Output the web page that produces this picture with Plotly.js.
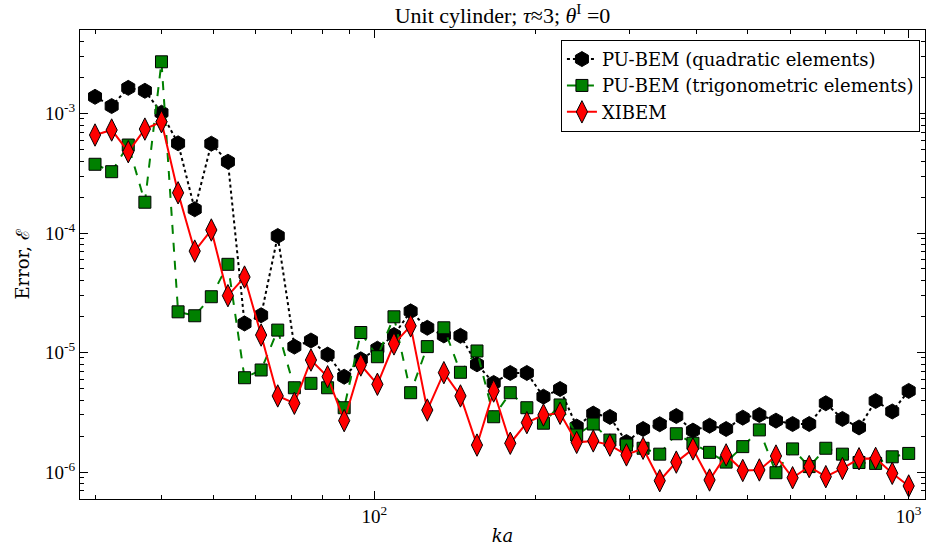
<!DOCTYPE html>
<html>
<head>
<meta charset="utf-8">
<script src="https://cdn.plot.ly/plotly-3.0.1.min.js"></script>
<style>html,body{margin:0;padding:0;background:#fff;}#chart{width:927px;height:546px;}</style>
</head>
<body>
<div id="chart"></div>
<script>
// ka values (log-spaced)
const ka = [30.0, 32.23, 34.62, 37.19, 39.95, 42.91, 46.10, 49.52, 53.19, 57.14,
  61.38, 65.93, 70.83, 76.08, 81.73, 87.79, 94.31, 101.3, 108.8, 116.9,
  125.6, 134.9, 144.9, 155.6, 167.2, 179.6, 192.9, 207.2, 222.6, 239.1,
  256.8, 275.9, 296.3, 318.3, 342.0, 367.3, 394.6, 423.9, 455.3, 489.1,
  525.4, 564.4, 606.3, 651.3, 699.6, 751.5, 807.3, 867.2, 931.5, 1000];

const puQuadratic = [1.38e-3, 1.155e-3, 1.64e-3, 1.55e-3, 1.015e-3, 5.63e-4, 1.58e-4, 5.59e-4, 3.95e-4, 1.75e-5,
  2.05e-5, 9.44e-5, 1.12e-5, 1.26e-5, 9.6e-6, 6.27e-6, 8.77e-6, 1.076e-5, 1.40e-5, 2.21e-5,
  1.61e-5, 1.39e-5, 1.38e-5, 7.96e-6, 5.56e-6, 6.74e-6, 6.74e-6, 4.27e-6, 4.95e-6, 2.40e-6,
  3.08e-6, 2.89e-6, 1.78e-6, 2.29e-6, 2.51e-6, 2.94e-6, 2.22e-6, 2.44e-6, 2.29e-6, 2.85e-6,
  3.00e-6, 2.69e-6, 2.52e-6, 2.52e-6, 3.76e-6, 2.78e-6, 2.36e-6, 3.93e-6, 3.21e-6, 4.77e-6];

const puTrig = [3.76e-4, 3.26e-4, 5.45e-4, 1.81e-4, 2.71e-3, 2.19e-5, 2.03e-5, 2.93e-5, 5.47e-5, 6.15e-6,
  7.14e-6, 1.54e-5, 5.07e-6, 5.52e-6, 5.07e-6, 3.45e-6, 1.47e-5, 9.22e-6, 1.99e-5, 4.61e-6,
  1.12e-5, 1.61e-5, 6.83e-6, 1.03e-5, 2.90e-6, 4.61e-6, 3.45e-6, 2.56e-6, 3.64e-6, 2.04e-6,
  2.52e-6, 1.85e-6, 1.68e-6, 1.58e-6, 1.41e-6, 2.09e-6, 1.74e-6, 1.46e-6, 1.21e-6, 1.63e-6,
  2.25e-6, 9.86e-7, 1.56e-6, 1.11e-6, 1.58e-6, 1.41e-6, 1.20e-6, 1.18e-6, 1.34e-6, 1.43e-6];

const xibem = [6.61e-4, 7.28e-4, 4.79e-4, 7.41e-4, 8.53e-4, 2.17e-4, 7.06e-5, 1.06e-4, 2.99e-5, 4.28e-5,
  1.40e-5, 4.33e-6, 3.76e-6, 8.65e-6, 6.27e-6, 2.69e-6, 7.86e-6, 5.42e-6, 1.18e-5, 1.67e-5,
  3.30e-6, 6.78e-6, 4.33e-6, 1.68e-6, 4.76e-6, 1.74e-6, 2.59e-6, 3.00e-6, 3.10e-6, 1.77e-6,
  1.82e-6, 1.68e-6, 1.39e-6, 1.58e-6, 8.45e-7, 1.21e-6, 1.56e-6, 8.57e-7, 1.39e-6, 1.03e-6,
  1.04e-6, 1.36e-6, 8.95e-7, 1.11e-6, 9.14e-7, 1.07e-6, 1.29e-6, 1.30e-6, 9.75e-7, 7.64e-7];

const seriesNames = ["PU-BEM (quadratic elements)", "PU-BEM (trigonometric elements)", "XIBEM"];
const xTickVals = [100, 1000];
const xTickText = ["10<sup>2</sup>", "10<sup>3</sup>"];
const yTickVals = [1e-6, 1e-5, 1e-4, 1e-3];
const yTickText = ["10<sup>-6</sup>", "10<sup>-5</sup>", "10<sup>-4</sup>", "10<sup>-3</sup>"];

// minor tick positions: k * 10^n, k = 2..9
function minorTicks(e0, e1) {
  const out = [];
  for (let e = e0; e <= e1; e++) for (let k = 2; k <= 9; k++) out.push(k * Math.pow(10, e));
  return out;
}

const traces = [
  {x: ka, y: puQuadratic, name: seriesNames[0], mode: "lines+markers",
   line: {color: "black", width: 2, dash: "dot"},
   marker: {symbol: "hexagon", size: 15, color: "black", line: {color: "black", width: 1}}},
  {x: ka, y: puTrig, name: seriesNames[1], mode: "lines+markers",
   line: {color: "#008000", width: 2, dash: "dash"},
   marker: {symbol: "square", size: 12, color: "#008000", line: {color: "black", width: 1}}},
  {x: ka, y: xibem, name: seriesNames[2], mode: "lines+markers",
   line: {color: "red", width: 2, dash: "solid"},
   marker: {symbol: "diamond-tall", size: 16, color: "red", line: {color: "black", width: 1}}}
];

const tickFont = {family: "Liberation Serif, DejaVu Serif, serif", size: 19, color: "black"};
const axisCommon = {
  type: "log", showgrid: false, zeroline: false,
  showline: true, linecolor: "black", linewidth: 1, mirror: "allticks",
  ticks: "inside", ticklen: 8, tickwidth: 1, tickcolor: "black",
  tickmode: "array", tickfont: tickFont
};

const layout = {
  width: 927, height: 546,
  margin: {l: 80, r: 2, t: 30, b: 47},
  paper_bgcolor: "white", plot_bgcolor: "white",
  showlegend: true,
  title: {text: "Unit cylinder; <i>τ</i>≈3; <i>θ</i><sup>I</sup> =0",
          x: 0.5, xref: "paper", xanchor: "center",
          y: 0.972, yref: "container", yanchor: "middle",
          font: {family: "Liberation Serif, DejaVu Serif, serif", size: 22, color: "black"}},
  xaxis: Object.assign({}, axisCommon, {
    range: [1.449, 3.0305], tickvals: xTickVals, ticktext: xTickText,
    minor: {tickmode: "array", tickvals: minorTicks(1, 3), ticks: "inside", ticklen: 4,
            tickwidth: 1, tickcolor: "black", showgrid: false},
    title: {text: "<i>ka</i>", standoff: 4, font: {family: "DejaVu Serif, serif", size: 18, color: "black"}}
  }),
  yaxis: Object.assign({}, axisCommon, {
    range: [-6.226, -2.301], tickvals: yTickVals, ticktext: yTickText,
    minor: {tickmode: "array", tickvals: minorTicks(-7, -3), ticks: "inside", ticklen: 4,
            tickwidth: 1, tickcolor: "black", showgrid: false},
    title: {text: "Error, ℰ", standoff: 10, font: {family: "DejaVu Serif, serif", size: 18, color: "black"}}
  }),
  legend: {x: 0.994, xanchor: "right", y: 0.979, yanchor: "top",
           bgcolor: "white", bordercolor: "black", borderwidth: 1,
           font: {family: "DejaVu Serif, serif", size: 18, color: "black"},
           tracegroupgap: 0}
};

Plotly.newPlot("chart", traces, layout, {displayModeBar: false, staticPlot: true});
</script>
</body>
</html>
